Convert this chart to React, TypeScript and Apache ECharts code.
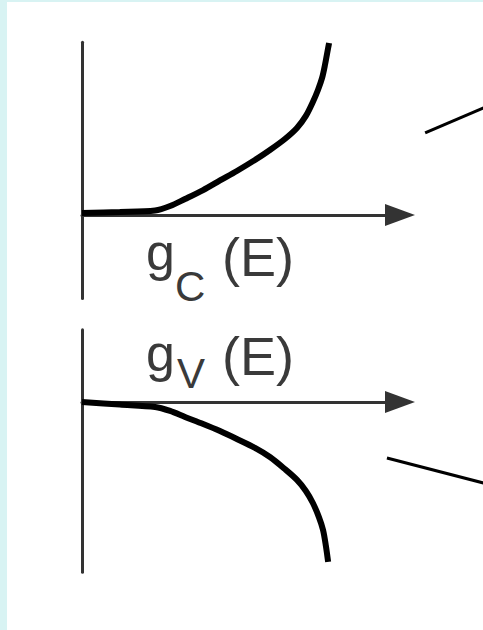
import React, { useEffect, useRef } from "react";
import * as echarts from "echarts";

// Density of states near the band edges: g(E) runs along the horizontal
// arrow, energy E along the vertical line.
const conductionG = [0, 1.19, 2.3, 2.77, 3.24, 3.81, 4.34, 4.87, 5.44, 5.91, 6.38, 6.76, 7.04, 7.26, 7.42, 7.55, 7.64, 7.74, 7.77];
const conductionE = [0.12, 0.17, 0.26, 0.52, 0.93, 1.45, 2.01, 2.56, 3.2, 3.78, 4.42, 5.06, 5.76, 6.57, 7.27, 7.97, 8.72, 9.71, 10.0];

const valenceG = [0, 1.19, 2.3, 2.77, 3.24, 3.81, 4.34, 4.87, 5.44, 5.91, 6.38, 6.76, 7.04, 7.26, 7.45, 7.58, 7.67, 7.74];
const valenceE = [0, -0.15, -0.29, -0.52, -0.87, -1.28, -1.69, -2.15, -2.67, -3.2, -3.9, -4.53, -5.17, -5.87, -6.69, -7.44, -8.37, -9.3];

// Leader lines running off to the right
const upperLeaderG = [10.79, 13];
const upperLeaderE = [4.77, 6.53];
const lowerLeaderG = [9.59, 13];
const lowerLeaderE = [-3.26, -4.89];

// Axis ranges
const gRange = [0, 10];
const leaderGRange = [0, 13];
const upperERange = [-4.85, 10.05];
const lowerERange = [-9.9, 4.2];

const pairs = (xs: number[], ys: number[]) => xs.map((x, i) => [x, ys[i]]);

const FONT = '"Liberation Sans", Arial, Helvetica, sans-serif';
const TEXT_COLOR = "#3a3a3a";
const AXIS_COLOR = "#333";
const PX_PER_G = 31.8;
const PX_PER_E = 17.2;
const UPPER_ZERO = 215;
const LOWER_ZERO = 402;

function gridFor(zeroY: number, eRange: number[], gMax: number) {
  return {
    left: 82,
    width: gMax * PX_PER_G,
    top: zeroY - eRange[1] * PX_PER_E,
    height: (eRange[1] - eRange[0]) * PX_PER_E,
    outerBoundsMode: "none",
  };
}

const hidden = {
  axisTick: { show: false },
  axisLabel: { show: false },
  splitLine: { show: false },
};

function axisPair(gridIndex: number, eRange: number[], gR: number[], visible: boolean) {
  const xAxis = {
    type: "value",
    gridIndex,
    min: gR[0],
    max: gR[1],
    axisLine: visible
      ? {
          show: true,
          onZero: true,
          symbol: ["none", "triangle"],
          symbolSize: [22, 30],
          lineStyle: { color: AXIS_COLOR, width: 3 },
        }
      : { show: false },
    ...hidden,
  };
  const yAxis = {
    type: "value",
    gridIndex,
    min: eRange[0],
    max: eRange[1],
    axisLine: visible
      ? { show: true, onZero: false, lineStyle: { color: AXIS_COLOR, width: 3 } }
      : { show: false },
    ...hidden,
  };
  return { xAxis, yAxis };
}

function glyph(text: string, x: number, y: number, size: number) {
  return {
    type: "text",
    x,
    y,
    style: {
      text,
      fontSize: size,
      fontFamily: FONT,
      fill: TEXT_COLOR,
      align: "left",
      verticalAlign: "middle",
    },
  };
}

export default function App() {
  const ref = useRef<HTMLDivElement>(null);

  useEffect(() => {
    document.body.style.margin = "0";
    if (!ref.current) return;
    const chart = echarts.init(ref.current, undefined, { renderer: "svg" });

    const upper = axisPair(0, upperERange, gRange, true);
    const lower = axisPair(1, lowerERange, gRange, true);
    const upperLead = axisPair(2, upperERange, leaderGRange, false);
    const lowerLead = axisPair(3, lowerERange, leaderGRange, false);

    const curveStyle = { color: "#000", width: 6 };
    const leaderStyle = { color: "#000", width: 3 };

    chart.setOption({
      animation: false,
      backgroundColor: "#ffffff",
      grid: [
        gridFor(UPPER_ZERO, upperERange, gRange[1]),
        gridFor(LOWER_ZERO, lowerERange, gRange[1]),
        gridFor(UPPER_ZERO, upperERange, leaderGRange[1]),
        gridFor(LOWER_ZERO, lowerERange, leaderGRange[1]),
      ],
      xAxis: [upper.xAxis, lower.xAxis, upperLead.xAxis, lowerLead.xAxis],
      yAxis: [upper.yAxis, lower.yAxis, upperLead.yAxis, lowerLead.yAxis],
      series: [
        {
          name: "g_C(E)",
          type: "line",
          xAxisIndex: 0,
          yAxisIndex: 0,
          data: pairs(conductionG, conductionE),
          smooth: 0.3,
          showSymbol: false,
          clip: false,
          lineStyle: curveStyle,
          z: 5,
        },
        {
          name: "g_V(E)",
          type: "line",
          xAxisIndex: 1,
          yAxisIndex: 1,
          data: pairs(valenceG, valenceE),
          smooth: 0.3,
          showSymbol: false,
          clip: false,
          lineStyle: curveStyle,
          z: 5,
        },
        {
          type: "line",
          xAxisIndex: 2,
          yAxisIndex: 2,
          data: pairs(upperLeaderG, upperLeaderE),
          showSymbol: false,
          lineStyle: leaderStyle,
        },
        {
          type: "line",
          xAxisIndex: 3,
          yAxisIndex: 3,
          data: pairs(lowerLeaderG, lowerLeaderE),
          showSymbol: false,
          lineStyle: leaderStyle,
        },
      ],
      graphic: [
        // pale frame strips along the left and top edges
        { type: "rect", z: -10, shape: { x: 0, y: 0, width: 7, height: 630 }, style: { fill: "#d8f3f3" } },
        { type: "rect", z: -10, shape: { x: 0, y: 0, width: 483, height: 2 }, style: { fill: "#d8f3f3" } },
        // g_C(E)
        glyph("g", 146, 251.8, 52),
        glyph("C", 175, 286.3, 42),
        glyph("(E)", 222, 257.1, 54),
        // g_V(E)
        glyph("g", 146, 352.8, 52),
        glyph("V", 177, 373.3, 42),
        glyph("(E)", 222, 356.1, 54),
      ],
    });

    return () => chart.dispose();
  }, []);

  return (
    <div
      ref={ref}
      style={{ position: "absolute", left: 0, top: 0, width: 483, height: 630 }}
    />
  );
}
